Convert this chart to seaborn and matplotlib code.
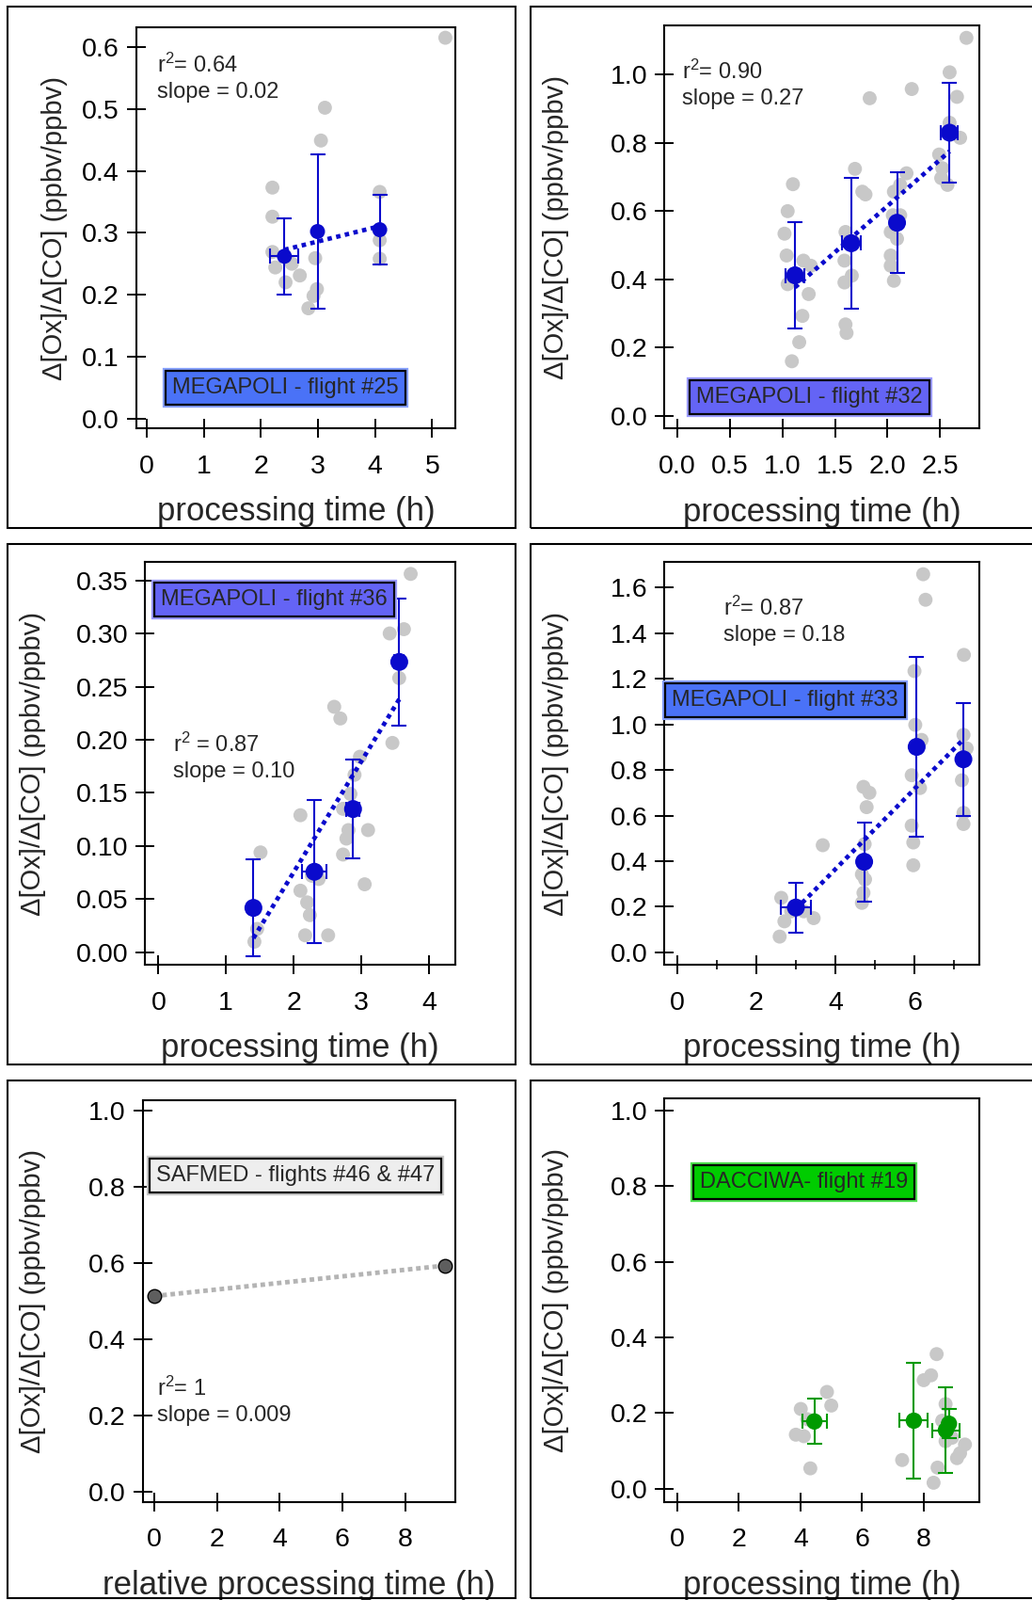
import pandas as pd
import matplotlib.pyplot as plt
import matplotlib.patheffects as pe
from matplotlib.patches import Rectangle
from matplotlib.ticker import FormatStrFormatter, MultipleLocator
import seaborn as sns

# ---------------- data ----------------
# MEGAPOLI flight #25
f25_x = [5.23, 3.12, 3.05, 2.20, 2.20, 4.08, 4.08, 4.08, 2.20, 2.25, 2.54, 2.43, 2.68, 2.95, 2.98, 2.92, 2.83]
f25_y = [0.615, 0.502, 0.449, 0.373, 0.326, 0.366, 0.288, 0.258, 0.269, 0.244, 0.250, 0.220, 0.231, 0.259, 0.209, 0.198, 0.178]
f25_mean_x = [2.41, 2.99, 4.08]
f25_mean_y = [0.262, 0.302, 0.305]
f25_xerr = [0.25, 0.0, 0.0]
f25_yerr = [0.062, 0.124, 0.056]

# MEGAPOLI flight #32
f32_x = [2.75, 2.59, 2.23, 1.83, 2.66, 2.59, 2.69, 2.49, 2.52, 2.51, 2.57, 1.69, 1.76, 1.79, 2.18, 2.12,
         2.06, 2.05, 2.12, 2.03, 2.09, 2.03, 2.03, 2.06, 1.10, 1.05, 1.02, 1.04, 1.05, 1.20, 1.25, 1.19,
         1.16, 1.09, 1.60, 1.59, 1.59, 1.66, 1.60, 1.61, 1.68, 1.27]
f32_y = [1.108, 1.007, 0.958, 0.931, 0.935, 0.859, 0.815, 0.766, 0.726, 0.697, 0.677, 0.724, 0.657, 0.649,
         0.711, 0.677, 0.657, 0.588, 0.588, 0.539, 0.519, 0.470, 0.440, 0.396, 0.679, 0.600, 0.534, 0.470,
         0.386, 0.455, 0.357, 0.293, 0.216, 0.160, 0.539, 0.455, 0.391, 0.411, 0.268, 0.243, 0.509, 0.440]
f32_mean_x = [1.12, 1.655, 2.09, 2.59]
f32_mean_y = [0.412, 0.506, 0.566, 0.830]
f32_xerr = [0.09, 0.09, 0.0, 0.08]
f32_yerr = [0.156, 0.191, 0.148, 0.145]

# MEGAPOLI flight #36
f36_x = [3.73, 3.42, 3.63, 3.56, 2.60, 2.69, 3.46, 2.98, 2.90, 2.84, 2.73, 2.81, 2.78, 3.10, 2.73, 3.05,
         2.10, 2.27, 2.37, 2.10, 2.20, 2.24, 2.17, 2.51, 1.51, 1.46, 1.42]
f36_y = [0.356, 0.300, 0.304, 0.258, 0.231, 0.220, 0.197, 0.184, 0.167, 0.149, 0.135, 0.115, 0.107, 0.115,
         0.092, 0.064, 0.129, 0.072, 0.069, 0.058, 0.047, 0.035, 0.016, 0.016, 0.094, 0.022, 0.010]
f36_mean_x = [1.405, 2.307, 2.878, 3.561]
f36_mean_y = [0.0418, 0.0758, 0.1348, 0.2732]
f36_xerr = [0.0, 0.18, 0.10, 0.07]
f36_yerr = [0.0453, 0.0673, 0.0462, 0.0600]

# MEGAPOLI flight #33
f33_x = [6.22, 6.28, 7.25, 6.00, 6.02, 6.18, 5.93, 6.14, 5.93, 5.97, 5.97, 7.24, 7.32, 7.20, 7.24, 7.24,
         4.71, 4.86, 4.79, 4.74, 4.67, 4.75, 4.71, 4.67, 3.68, 2.59, 2.63, 2.71, 3.45, 3.20, 2.88]
f33_y = [1.659, 1.547, 1.305, 1.234, 0.998, 0.932, 0.777, 0.721, 0.556, 0.482, 0.382, 0.954, 0.895, 0.755,
         0.612, 0.563, 0.726, 0.700, 0.637, 0.475, 0.342, 0.320, 0.261, 0.217, 0.470, 0.069, 0.239, 0.136,
         0.150, 0.180, 0.180]
f33_mean_x = [3.00, 4.727, 6.055, 7.237]
f33_mean_y = [0.1965, 0.3975, 0.9015, 0.847]
f33_xerr = [0.38, 0.0, 0.0, 0.0]
f33_yerr = [0.1085, 0.1735, 0.3945, 0.247]

# SAFMED flights #46 & #47
safmed_x = [0.0, 9.28]
safmed_y = [0.514, 0.594]

# DACCIWA flight #19
d19_x = [8.42, 8.24, 8.00, 4.86, 5.00, 4.01, 4.22, 3.85, 4.11, 4.32, 7.30, 8.45, 8.32, 8.71, 8.71, 9.08,
         9.34, 9.18, 8.92, 8.60]
d19_y = [0.356, 0.300, 0.287, 0.256, 0.220, 0.211, 0.184, 0.143, 0.139, 0.054, 0.076, 0.056, 0.016, 0.224,
         0.126, 0.081, 0.117, 0.094, 0.135, 0.180]
d19_mean_x = [4.45, 7.68, 8.72, 8.82]
d19_mean_y = [0.178, 0.180, 0.155, 0.172]
d19_xerr = [0.40, 0.46, 0.43, 0.08]
d19_yerr = [0.060, 0.152, 0.114, 0.039]

YLABEL = 'Δ[Ox]/Δ[CO] (ppbv/ppbv)'
W, H = 1097, 1700


def px_axes(fig, left, right, top, bottom):
    return fig.add_axes([left / W, 1 - bottom / H, (right - left) / W, (bottom - top) / H])


def frame(fig, x0, x1, y0, y1):
    fig.add_artist(Rectangle((x0 / W, 1 - y1 / H), (x1 - x0) / W, (y1 - y0) / H,
                             transform=fig.transFigure, fill=False, lw=1.5, ec='black'))


def plot_flight(ax, raw_x, raw_y, mx, my, xerr, yerr, color, ms, fit=True):
    raw = pd.DataFrame({'t': raw_x, 'r': raw_y})
    means = pd.DataFrame({'t': mx, 'r': my, 'xerr': xerr, 'yerr': yerr})
    sns.scatterplot(ax=ax, data=raw, x='t', y='r', s=115, color='#c8c8c8',
                    edgecolor='none', zorder=1)
    if fit:
        sns.regplot(ax=ax, data=means, x='t', y='r', scatter=False, ci=None, color=color,
                    line_kws={'ls': (0, (1, 1)), 'lw': 3.4, 'zorder': 2})
    ax.errorbar(means['t'], means['r'], yerr=means['yerr'], fmt='none', ecolor=color,
                elinewidth=1.5, capsize=5.5, capthick=1.5, zorder=3)
    sub = means[means['xerr'] > 0]
    ax.errorbar(sub['t'], sub['r'], xerr=sub['xerr'], fmt='none', ecolor=color,
                elinewidth=1.5, capsize=5.5, capthick=1.5, zorder=3)
    sns.scatterplot(ax=ax, data=means, x='t', y='r', s=ms ** 2, color=color,
                    edgecolor='none', zorder=4)


def style_axes(ax, xlim, ylim, xticks, yticks, xfmt, yfmt, ylab_x, xlab_y, xlabel):
    ax.set_xlim(xlim)
    ax.set_ylim(ylim)
    ax.set_xticks(xticks)
    ax.set_yticks(yticks)
    ax.xaxis.set_major_formatter(FormatStrFormatter(xfmt))
    ax.yaxis.set_major_formatter(FormatStrFormatter(yfmt))
    for s in ax.spines.values():
        s.set_visible(True)
        s.set_linewidth(1.5)
        s.set_color('black')
    ax.tick_params(which='major', direction='inout', length=14, width=1.4,
                   labelsize=20.5, colors='black', bottom=True, left=True)
    ax.tick_params(axis='y', pad=6)
    ax.tick_params(axis='x', pad=13)
    ax.set_ylabel(YLABEL, fontsize=21)
    ax.set_xlabel(xlabel, fontsize=25)
    ax.yaxis.set_label_coords(ylab_x, 0.5)
    ax.xaxis.set_label_coords(0.5, xlab_y)


def stats(ax, x, y, r2, slope):
    ax.text(x, y, r2, transform=ax.transAxes, fontsize=17, va='baseline')
    ax.text(x, y - 0.064, slope, transform=ax.transAxes, fontsize=17, va='baseline')


def label_box(ax, x, y, text, face, outer):
    t = ax.text(x, y, text, transform=ax.transAxes, ha='center', va='center', fontsize=17,
                zorder=10, clip_on=False,
                bbox=dict(boxstyle='square,pad=0.3', facecolor=face, edgecolor='black', linewidth=1.6))
    t.get_bbox_patch().set_path_effects([pe.Stroke(linewidth=4.5, foreground=outer), pe.Normal()])


def main():
    sns.set_style('ticks')
    plt.rcParams['font.family'] = ['Liberation Sans', 'DejaVu Sans']
    plt.rcParams['mathtext.fontset'] = 'custom'
    plt.rcParams['mathtext.rm'] = 'Liberation Sans'
    plt.rcParams['mathtext.default'] = 'regular'

    fig = plt.figure(figsize=(W / 100, H / 100), dpi=100)

    # panel frames
    frame(fig, 7.7, 547.5, 7.1, 560.5)
    frame(fig, 564, 1100, 7.1, 560.5)
    frame(fig, 7.7, 547.5, 577.5, 1130.7)
    frame(fig, 564, 1100, 577.5, 1130.7)
    frame(fig, 7.7, 547.5, 1147.6, 1698)
    frame(fig, 564, 1100, 1147.6, 1698)

    blue = '#0a0acc'
    green = '#009a00'

    # MEGAPOLI #25
    ax = px_axes(fig, 144.9, 484, 28.6, 455.4)
    plot_flight(ax, f25_x, f25_y, f25_mean_x, f25_mean_y, f25_xerr, f25_yerr, blue, 11.5)
    style_axes(ax, (-0.185, 5.405), (-0.0163, 0.6325), [0, 1, 2, 3, 4, 5],
               [0, 0.1, 0.2, 0.3, 0.4, 0.5, 0.6], '%d', '%.1f', -0.215, -0.168, 'processing time (h)')
    stats(ax, 0.064, 0.887, r'$r^2$= 0.64', 'slope = 0.02')
    label_box(ax, 0.468, 0.101, 'MEGAPOLI - flight #25', '#4a72f7', '#86a0ff')

    # MEGAPOLI #32
    ax = px_axes(fig, 706.2, 1040.5, 26.8, 455.4)
    plot_flight(ax, f32_x, f32_y, f32_mean_x, f32_mean_y, f32_xerr, f32_yerr, blue, 13.7)
    style_axes(ax, (-0.1225, 2.868), (-0.0374, 1.145), [0, 0.5, 1.0, 1.5, 2.0, 2.5],
               [0, 0.2, 0.4, 0.6, 0.8, 1.0], '%.1f', '%.1f', -0.304, -0.17, 'processing time (h)')
    stats(ax, 0.057, 0.867, r'$r^2$= 0.90', 'slope = 0.27')
    label_box(ax, 0.462, 0.078, 'MEGAPOLI - flight #32', '#6464f5', '#9a9aff')

    # MEGAPOLI #36
    ax = px_axes(fig, 154.3, 484, 596.8, 1025.4)
    plot_flight(ax, f36_x, f36_y, f36_mean_x, f36_mean_y, f36_xerr, f36_yerr, blue, 13.7)
    style_axes(ax, (-0.195, 4.39), (-0.012, 0.3675), [0, 1, 2, 3, 4],
               [0, 0.05, 0.10, 0.15, 0.20, 0.25, 0.30, 0.35], '%d', '%.2f', -0.319, -0.167,
               'processing time (h)')
    stats(ax, 0.09, 0.529, r'$r^2$ = 0.87', 'slope = 0.10')
    label_box(ax, 0.416, 0.9055, 'MEGAPOLI - flight #36', '#6464f5', '#9a9aff')

    # MEGAPOLI #33
    ax = px_axes(fig, 706.2, 1040.5, 596.8, 1025.4)
    plot_flight(ax, f33_x, f33_y, f33_mean_x, f33_mean_y, f33_xerr, f33_yerr, blue, 13.7)
    style_axes(ax, (-0.326, 7.628), (-0.056, 1.714), [0, 2, 4, 6],
               [0, 0.2, 0.4, 0.6, 0.8, 1.0, 1.2, 1.4, 1.6], '%d', '%.1f', -0.304, -0.168,
               'processing time (h)')
    ax.xaxis.set_minor_locator(MultipleLocator(1))
    ax.tick_params(axis='x', which='minor', direction='inout', length=7, width=1.4, bottom=True)
    stats(ax, 0.188, 0.867, r'$r^2$= 0.87', 'slope = 0.18')
    label_box(ax, 0.383, 0.656, 'MEGAPOLI - flight #33', '#4a72f7', '#86a0ff')

    # SAFMED #46 & #47
    ax = px_axes(fig, 151.9, 484, 1169.2, 1595.5)
    saf = pd.DataFrame({'t': safmed_x, 'r': safmed_y})
    sns.lineplot(ax=ax, data=saf, x='t', y='r', color='#b4b4b4', lw=3.5,
                 ls=(0, (1, 0.8)), zorder=1)
    sns.scatterplot(ax=ax, data=saf, x='t', y='r', s=110, color='#5e5e5e',
                    edgecolor='black', linewidth=1.0, zorder=3)
    style_axes(ax, (-0.357, 9.6), (-0.025, 1.027), [0, 2, 4, 6, 8],
               [0, 0.2, 0.4, 0.6, 0.8, 1.0], '%d', '%.1f', -0.31, -0.171,
               'relative processing time (h)')
    stats(ax, 0.044, 0.265, r'$r^2$= 1', 'slope = 0.009')
    label_box(ax, 0.488, 0.813, 'SAFMED - flights #46 & #47', '#eeeeee', '#c8c8c8')

    # DACCIWA #19
    ax = px_axes(fig, 706.2, 1040.5, 1167.4, 1595.5)
    plot_flight(ax, d19_x, d19_y, d19_mean_x, d19_mean_y, d19_xerr, d19_yerr, green, 12.5, fit=False)
    style_axes(ax, (-0.418, 9.79), (-0.034, 1.031), [0, 2, 4, 6, 8],
               [0, 0.2, 0.4, 0.6, 0.8, 1.0], '%d', '%.1f', -0.304, -0.17, 'processing time (h)')
    label_box(ax, 0.443, 0.794, 'DACCIWA- flight #19', '#00cc00', '#4ee24e')

    fig.savefig('out.png', dpi=100)


if __name__ == '__main__':
    main()
